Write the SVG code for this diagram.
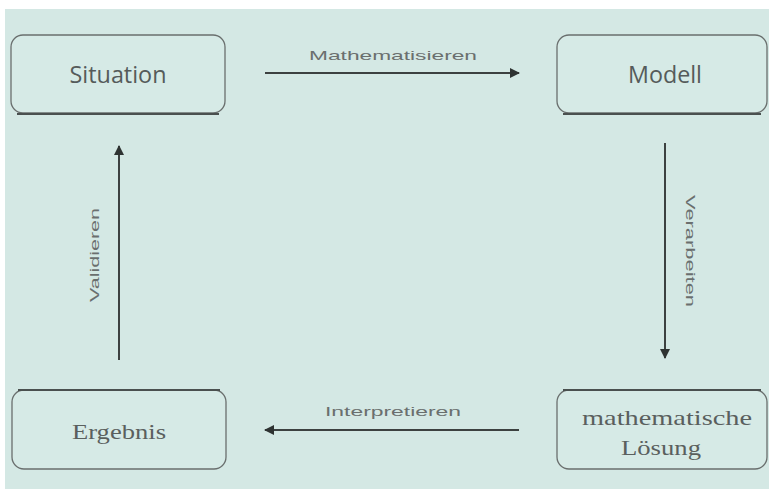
<svg xmlns="http://www.w3.org/2000/svg" width="769" height="489" viewBox="0 0 769 489">
<defs>
<style>
.bg{fill:#d4e8e4}
.box{fill:#d6eae6;stroke:#6a6f6e;stroke-width:1.3}
.shadow{fill:none;stroke:#4a504f;stroke-width:2.2}
.lbl{font-family:"Open Sans","Liberation Sans",sans-serif;fill:#555b5a;text-anchor:middle;dominant-baseline:central}
.lbls{font-family:"Liberation Serif",serif;fill:#5a5f5e;text-anchor:middle;dominant-baseline:central}
.edge{font-family:"Liberation Sans",sans-serif;font-size:13px;fill:#6a6f6e;text-anchor:middle;dominant-baseline:central}
.arr{stroke:#3c4140;stroke-width:2;fill:none;marker-end:url(#ah)}
</style>
<marker id="ah" viewBox="0 0 10 10" refX="9" refY="5" markerWidth="5" markerHeight="5" orient="auto" markerUnits="strokeWidth">
<path d="M0,0 L10,5 L0,10 z" fill="#2e3332"/>
</marker>
</defs>
<rect x="0" y="0" width="769" height="489" fill="#ffffff"/>
<rect class="bg" x="5" y="9" width="764" height="480"/>

<g id="situation">
<rect class="box" x="11" y="35" width="214" height="78" rx="12"/>
<path class="shadow" d="M17,114 H219"/>
<text class="lbl" x="118" y="74" font-size="23" textLength="97" lengthAdjust="spacingAndGlyphs">Situation</text>
</g>

<g id="modell">
<rect class="box" x="557" y="35" width="210" height="78" rx="12"/>
<path class="shadow" d="M563,114 H761"/>
<text class="lbl" x="665" y="74" font-size="23" textLength="74" lengthAdjust="spacingAndGlyphs">Modell</text>
</g>

<g id="ergebnis">
<rect class="box" x="12" y="390" width="214" height="79" rx="12"/>
<path class="shadow" d="M18,390 H220"/>
<text class="lbls" x="119" y="431" font-size="22" textLength="94" lengthAdjust="spacingAndGlyphs">Ergebnis</text>
</g>

<g id="loesung">
<rect class="box" x="557" y="390" width="210" height="79" rx="12"/>
<path class="shadow" d="M563,390 H761"/>
<text class="lbls" x="667" y="417" font-size="22" textLength="170" lengthAdjust="spacingAndGlyphs">mathematische</text>
<text class="lbls" x="661" y="447" font-size="22" textLength="80" lengthAdjust="spacingAndGlyphs">Lösung</text>
</g>

<g id="connectors">
<line class="arr" x1="265" y1="73" x2="519" y2="73"/>
<text class="edge" x="393" y="55" textLength="168" lengthAdjust="spacingAndGlyphs">Mathematisieren</text>
<line class="arr" x1="665" y1="143" x2="665" y2="358"/>
<text class="edge" transform="translate(690,251) rotate(90)" textLength="112" lengthAdjust="spacingAndGlyphs">Verarbeiten</text>
<line class="arr" x1="519" y1="430" x2="265" y2="430"/>
<text class="edge" x="393" y="411" textLength="136" lengthAdjust="spacingAndGlyphs">Interpretieren</text>
<line class="arr" x1="119" y1="360" x2="119" y2="146"/>
<text class="edge" transform="translate(94,255) rotate(-90)" textLength="94" lengthAdjust="spacingAndGlyphs">Validieren</text>
</g>
</svg>
